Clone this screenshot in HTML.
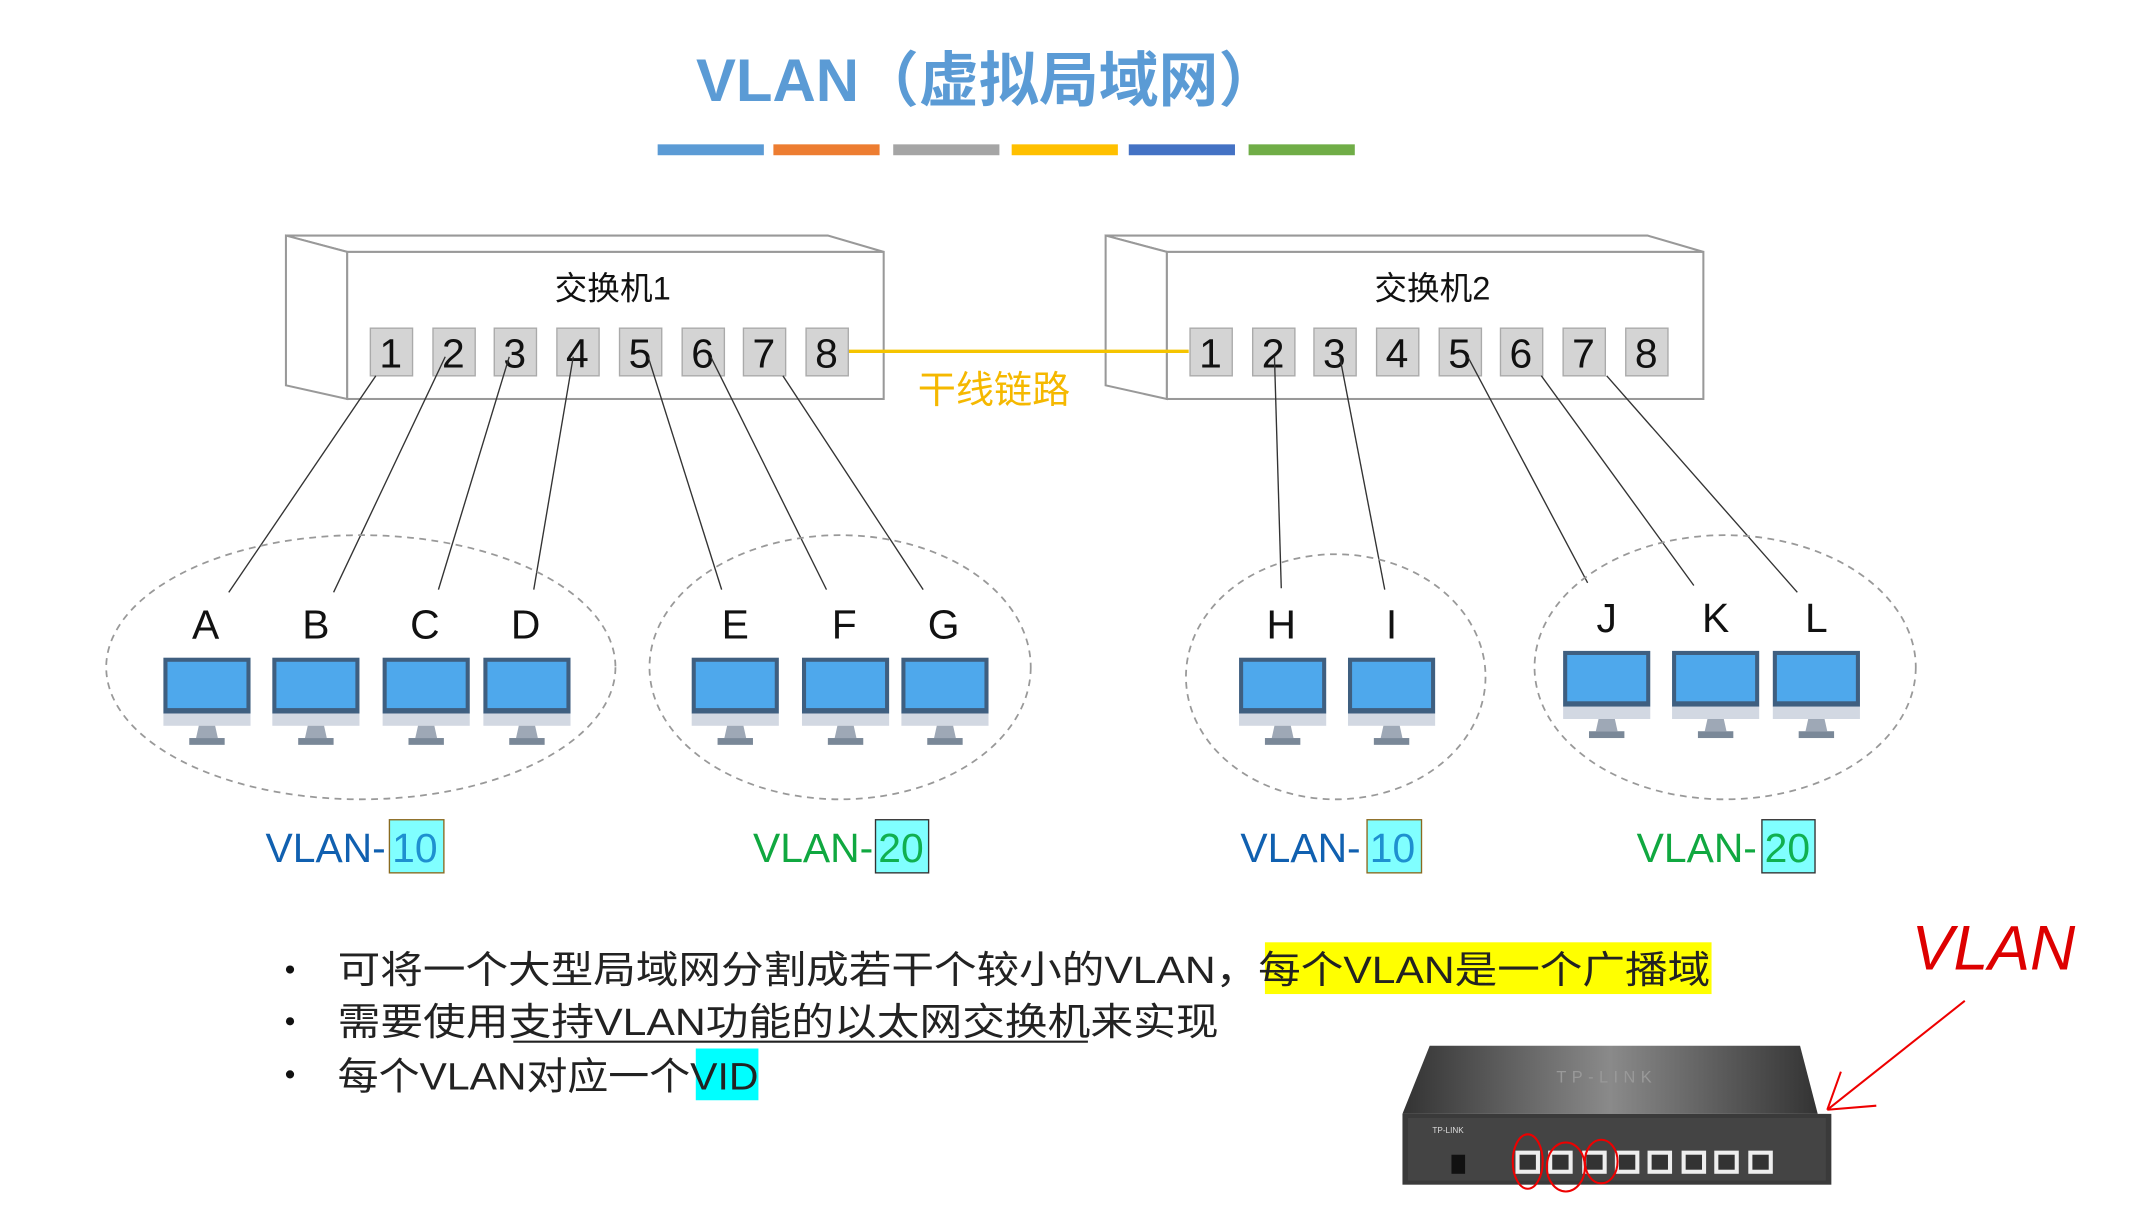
<!DOCTYPE html>
<html><head><meta charset="utf-8"><style>
html,body{margin:0;padding:0;background:#fff;}
svg{display:block;}
text{font-family:"Liberation Sans","Noto Sans CJK SC",sans-serif;}
</style></head><body>
<svg width="2135" height="1216" viewBox="0 0 1568 893" preserveAspectRatio="none" xmlns="http://www.w3.org/2000/svg">
<defs>
<g id="mon">
<rect x="-32" y="0" width="64" height="41" fill="#3f5f80"/>
<rect x="-29" y="3" width="58" height="34" fill="#4ea8ec"/>
<rect x="-32" y="41" width="64" height="9" fill="#d2d8e2"/>
<polygon points="-6,50 6,50 8,59 -8,59" fill="#9ea8b6"/>
<rect x="-13" y="59" width="26" height="5" fill="#7a8898"/>
</g>
</defs>
<rect width="1568" height="893" fill="#fff"/>
<text x="725" y="74" font-size="44" font-weight="bold" fill="#5b9bd5" text-anchor="middle">VLAN（虚拟局域网）</text>
<rect x="483" y="106" width="78" height="8" fill="#5b9bd5"/>
<rect x="568" y="106" width="78" height="8" fill="#ed7d31"/>
<rect x="656" y="106" width="78" height="8" fill="#a5a5a5"/>
<rect x="743" y="106" width="78" height="8" fill="#ffc000"/>
<rect x="829" y="106" width="78" height="8" fill="#4472c4"/>
<rect x="917" y="106" width="78" height="8" fill="#70ad47"/>

<g stroke="#999" stroke-width="1.5" fill="#fff">
<polygon points="210,173 608,173 649,185 255,185"/>
<polygon points="210,173 255,185 255,293 210,283"/>
<rect x="255" y="185" width="394" height="108"/>
<polygon points="812,173 1210,173 1251,185 857,185"/>
<polygon points="812,173 857,185 857,293 812,283"/>
<rect x="857" y="185" width="394" height="108"/>
</g>
<text x="450" y="220" font-size="24" text-anchor="middle" fill="#111">交换机1</text>
<text x="1052" y="220" font-size="24" text-anchor="middle" fill="#111">交换机2</text>
<line x1="623" y1="258" x2="873" y2="258" stroke="#f5c400" stroke-width="2.5"/>
<text x="730" y="296" font-size="28" text-anchor="middle" fill="#f5b800">干线链路</text>
<g font-size="30" text-anchor="middle" fill="#111">
<g fill="#d4d4d4" stroke="#aaa" stroke-width="1">
<rect x="272" y="241" width="31" height="35"/><rect x="318" y="241" width="31" height="35"/><rect x="363" y="241" width="31" height="35"/><rect x="409" y="241" width="31" height="35"/><rect x="455" y="241" width="31" height="35"/><rect x="501" y="241" width="31" height="35"/><rect x="546" y="241" width="31" height="35"/><rect x="592" y="241" width="31" height="35"/>
<rect x="874" y="241" width="31" height="35"/><rect x="920" y="241" width="31" height="35"/><rect x="965" y="241" width="31" height="35"/><rect x="1011" y="241" width="31" height="35"/><rect x="1057" y="241" width="31" height="35"/><rect x="1102" y="241" width="31" height="35"/><rect x="1148" y="241" width="31" height="35"/><rect x="1194" y="241" width="31" height="35"/>
</g>
<text x="287" y="270">1</text><text x="333" y="270">2</text><text x="378" y="270">3</text><text x="424" y="270">4</text><text x="470" y="270">5</text><text x="516" y="270">6</text><text x="561" y="270">7</text><text x="607" y="270">8</text>
<text x="889" y="270">1</text><text x="935" y="270">2</text><text x="980" y="270">3</text><text x="1026" y="270">4</text><text x="1072" y="270">5</text><text x="1117" y="270">6</text><text x="1163" y="270">7</text><text x="1209" y="270">8</text>
</g>
<g stroke="#333" stroke-width="1">
<line x1="276" y1="276" x2="168" y2="435"/><line x1="327" y1="262" x2="245" y2="435"/><line x1="374" y1="262" x2="322" y2="433"/><line x1="421" y1="262" x2="392" y2="433"/>
<line x1="476" y1="262" x2="530" y2="433"/><line x1="522" y1="262" x2="607" y2="433"/><line x1="575" y1="276" x2="678" y2="433"/>
<line x1="936" y1="262" x2="941" y2="432"/><line x1="984" y1="262" x2="1017" y2="433"/><line x1="1078" y1="262" x2="1166" y2="428"/><line x1="1132" y1="276" x2="1244" y2="430"/><line x1="1180" y1="276" x2="1320" y2="435"/>
</g>
<g fill="none" stroke="#999" stroke-width="1.3" stroke-dasharray="5,4">
<ellipse cx="265" cy="490" rx="187" ry="97"/>
<ellipse cx="617" cy="490" rx="140" ry="97"/>
<ellipse cx="981" cy="497" rx="110" ry="90"/>
<ellipse cx="1267" cy="490" rx="140" ry="97"/>
</g>
<g font-size="30" text-anchor="middle" fill="#111">
<text x="151" y="469">A</text><text x="232" y="469">B</text><text x="312" y="469">C</text><text x="386" y="469">D</text>
<text x="540" y="469">E</text><text x="620" y="469">F</text><text x="693" y="469">G</text>
<text x="941" y="469">H</text><text x="1022" y="469">I</text>
<text x="1180" y="464">J</text><text x="1260" y="464">K</text><text x="1334" y="464">L</text>
</g>
<use href="#mon" x="152" y="483"/><use href="#mon" x="232" y="483"/><use href="#mon" x="313" y="483"/><use href="#mon" x="387" y="483"/>
<use href="#mon" x="540" y="483"/><use href="#mon" x="621" y="483"/><use href="#mon" x="694" y="483"/>
<use href="#mon" x="942" y="483"/><use href="#mon" x="1022" y="483"/>
<use href="#mon" x="1180" y="478"/><use href="#mon" x="1260" y="478"/><use href="#mon" x="1334" y="478"/>

<g font-size="30">
<rect x="286" y="602" width="40" height="39" fill="#80ffff" stroke="#8a6a20" stroke-width="1"/>
<text x="195" y="633" fill="#1060b0">VLAN-</text><text x="288" y="633" fill="#1e90d0">10</text>
<rect x="643" y="602" width="39" height="39" fill="#80ffff" stroke="#333" stroke-width="1"/>
<text x="553" y="633" fill="#10a840">VLAN-</text><text x="645" y="633" fill="#10b050">20</text>
<rect x="1004" y="602" width="40" height="39" fill="#80ffff" stroke="#8a6a20" stroke-width="1"/>
<text x="911" y="633" fill="#1060b0">VLAN-</text><text x="1006" y="633" fill="#1e90d0">10</text>
<rect x="1294" y="602" width="39" height="39" fill="#80ffff" stroke="#333" stroke-width="1"/>
<text x="1202" y="633" fill="#10a840">VLAN-</text><text x="1296" y="633" fill="#10b050">20</text>
</g>

<rect x="929" y="692" width="328" height="38" fill="#ffff00"/>
<rect x="511" y="770" width="46" height="38" fill="#00ffff"/>
<g font-size="28" fill="#222">
<circle cx="213" cy="712" r="3" fill="#111"/><circle cx="213" cy="750" r="3" fill="#111"/><circle cx="213" cy="789" r="3" fill="#111"/>
<text x="248" y="722" textLength="1008" lengthAdjust="spacingAndGlyphs">可将一个大型局域网分割成若干个较小的VLAN，每个VLAN是一个广播域</text>
<text x="248" y="760" textLength="647" lengthAdjust="spacingAndGlyphs">需要使用支持VLAN功能的以太网交换机来实现</text>
<text x="248" y="800" textLength="309" lengthAdjust="spacingAndGlyphs">每个VLAN对应一个VID</text>
</g>
<line x1="377" y1="765" x2="799" y2="765" stroke="#222" stroke-width="1.5"/>

<defs><linearGradient id="tp" x1="0" x2="1"><stop offset="0" stop-color="#333"/><stop offset="0.5" stop-color="#8a8a8a"/><stop offset="1" stop-color="#333"/></linearGradient></defs>
<polygon points="1050,768 1322,768 1335,818 1030,818" fill="url(#tp)"/>
<rect x="1030" y="818" width="315" height="52" fill="#3a3a3a"/>
<rect x="1034" y="821" width="307" height="46" fill="#444"/>
<text x="1180" y="795" font-size="12" fill="#999" text-anchor="middle" letter-spacing="4">TP-LINK</text>
<text x="1052" y="832" font-size="6" fill="#ddd">TP-LINK</text>
<g fill="#eee"><rect x="1113" y="845" width="18" height="17"/><rect x="1137" y="845" width="18" height="17"/><rect x="1162" y="845" width="18" height="17"/><rect x="1186" y="845" width="18" height="17"/><rect x="1210" y="845" width="18" height="17"/><rect x="1235" y="845" width="18" height="17"/><rect x="1259" y="845" width="18" height="17"/><rect x="1284" y="845" width="18" height="17"/></g>
<g fill="#333"><rect x="1116" y="848" width="12" height="11"/><rect x="1140" y="848" width="12" height="11"/><rect x="1165" y="848" width="12" height="11"/><rect x="1189" y="848" width="12" height="11"/><rect x="1213" y="848" width="12" height="11"/><rect x="1238" y="848" width="12" height="11"/><rect x="1262" y="848" width="12" height="11"/><rect x="1287" y="848" width="12" height="11"/></g>
<rect x="1066" y="848" width="10" height="14" fill="#111"/>
<g fill="none" stroke="#e00" stroke-width="1.5">
<ellipse cx="1122" cy="853" rx="11" ry="20"/><ellipse cx="1150" cy="857" rx="14" ry="18"/><ellipse cx="1176" cy="853" rx="12" ry="16"/>
<path d="M1443,735 L1342,815 M1342,815 L1352,787 M1342,815 L1378,812"/>
</g>
<text x="1404" y="712" font-size="46" fill="#d00" font-style="italic">VLAN</text>
</svg>
</body></html>
